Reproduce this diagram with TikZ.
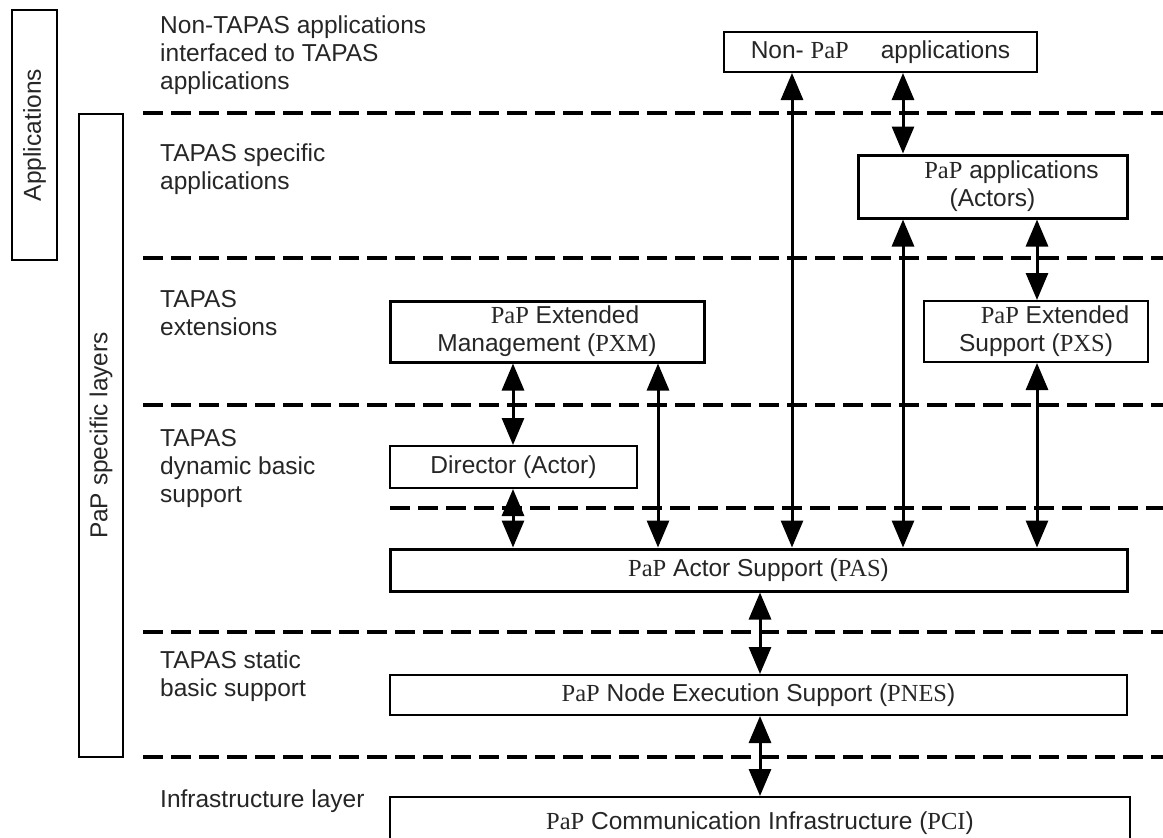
\documentclass[tikz,border=0pt]{standalone}
\usepackage{fontspec}
\setmainfont{Liberation Sans}
\newfontfamily\tms{Liberation Serif}
\usetikzlibrary{arrows.meta}

\begin{document}
\begin{tikzpicture}[x=1pt,y=-1pt,
  every node/.style={font=\fontsize{24.5}{28}\selectfont, text=black!85},
  layer/.style={draw=black, line width=3.5pt, dash pattern=on 20pt off 8pt},
  box/.style={draw=black, line width=#1, inner sep=0pt, align=center},
  box/.default=2pt,
  link/.style={line width=3pt,
    {Triangle[width=22pt,length=27pt]}-{Triangle[width=22pt,length=27pt]}},
  lab/.style={anchor=base west, align=left, inner sep=0pt}]

\useasboundingbox (0,0) rectangle (1163,838);
\fill[white] (0,0) rectangle (1163,838);
\clip (0,0) rectangle (1163,838);

% side brackets
\node[box=2.4pt, rotate=90, minimum width=250pt, minimum height=45pt] (appl) at (34.5,135) {Applications};
\node[box=1.6pt, rotate=90, minimum width=643pt, minimum height=44pt] (papl) at (101,435.5) {PaP specific layers};

% layer separators
\foreach \yy in {113,258,405,632,757}
  \draw[layer] (143,\yy) -- (1163,\yy);
\draw[layer] (390,508) -- (1163,508);

% layer names (anchored at the baseline of their last line)
\node[lab] (l1) at (160,89) {Non-TAPAS applications\\interfaced to TAPAS\\applications};
\node[lab] (l2) at (160,189) {TAPAS specific\\applications};
\node[lab] (l3) at (160,335) {TAPAS\\extensions};
\node[lab] (l4) at (160,502) {TAPAS\\dynamic basic\\support};
\node[lab] (l5) at (160,696) {TAPAS static\\basic support};
\node[lab] (l6) at (160,807) {Infrastructure layer};

% components
\node[box=2pt, minimum width=313pt, minimum height=40pt] (nonpap) at (880.5,52)
  {Non- {\tms PaP}\hspace{32pt}applications};
\node[box=3pt, minimum width=269pt, minimum height=63pt] (papapp) at (992.5,186.5)
  {\hspace*{38pt}{\tms PaP} applications\\(Actors)};
\node[box=3pt, minimum width=314pt, minimum height=61pt] (pxm) at (547,331.5)
  {\hspace*{36pt}{\tms PaP} Extended\\Management ({\tms PXM})};
\node[box=2pt, minimum width=224pt, minimum height=61pt] (pxs) at (1036,331.5)
  {\hspace*{38pt}{\tms PaP} Extended\\Support ({\tms PXS})};
\node[box=2pt, minimum width=247pt, minimum height=42pt] (director) at (513.5,467)
  {Director (Actor)};
\node[box=3pt, minimum width=737pt, minimum height=42pt] (pas) at (758.5,570)
  {{\tms PaP} Actor Support ({\tms PAS})};
\node[box=2pt, minimum width=737pt, minimum height=40pt] (pnes) at (758.5,695)
  {{\tms PaP} Node Execution Support ({\tms PNES})};
\node[box=2pt, minimum width=740pt, minimum height=60pt] (pci) at (760,827)
  {\raisebox{13pt}{{\tms PaP} Communication Infrastructure ({\tms PCI})}};

% columns of the interface arrows
\coordinate (c1) at (513,0);
\coordinate (c2) at (658,0);
\coordinate (c3) at (760,0);
\coordinate (c4) at (792,0);
\coordinate (c5) at (903,0);
\coordinate (c6) at (1037,0);

\draw[link] (c4 |- nonpap.south) -- (c4 |- pas.north);
\draw[link] (c5 |- nonpap.south) -- (c5 |- papapp.north);
\draw[link] (c5 |- papapp.south) -- (c5 |- pas.north);
\draw[link] (c6 |- papapp.south) -- (c6 |- pxs.north);
\draw[link] (c6 |- pxs.south) -- (c6 |- pas.north);
\draw[link] (c1 |- pxm.south) -- (c1 |- director.north);
\draw[link] (c1 |- director.south) -- (c1 |- pas.north);
\draw[link] (c2 |- pxm.south) -- (c2 |- pas.north);
\draw[link] (c3 |- pas.south) -- (c3 |- pnes.north);
\draw[link] (c3 |- pnes.south) -- (c3 |- pci.north);

\end{tikzpicture}
\end{document}
